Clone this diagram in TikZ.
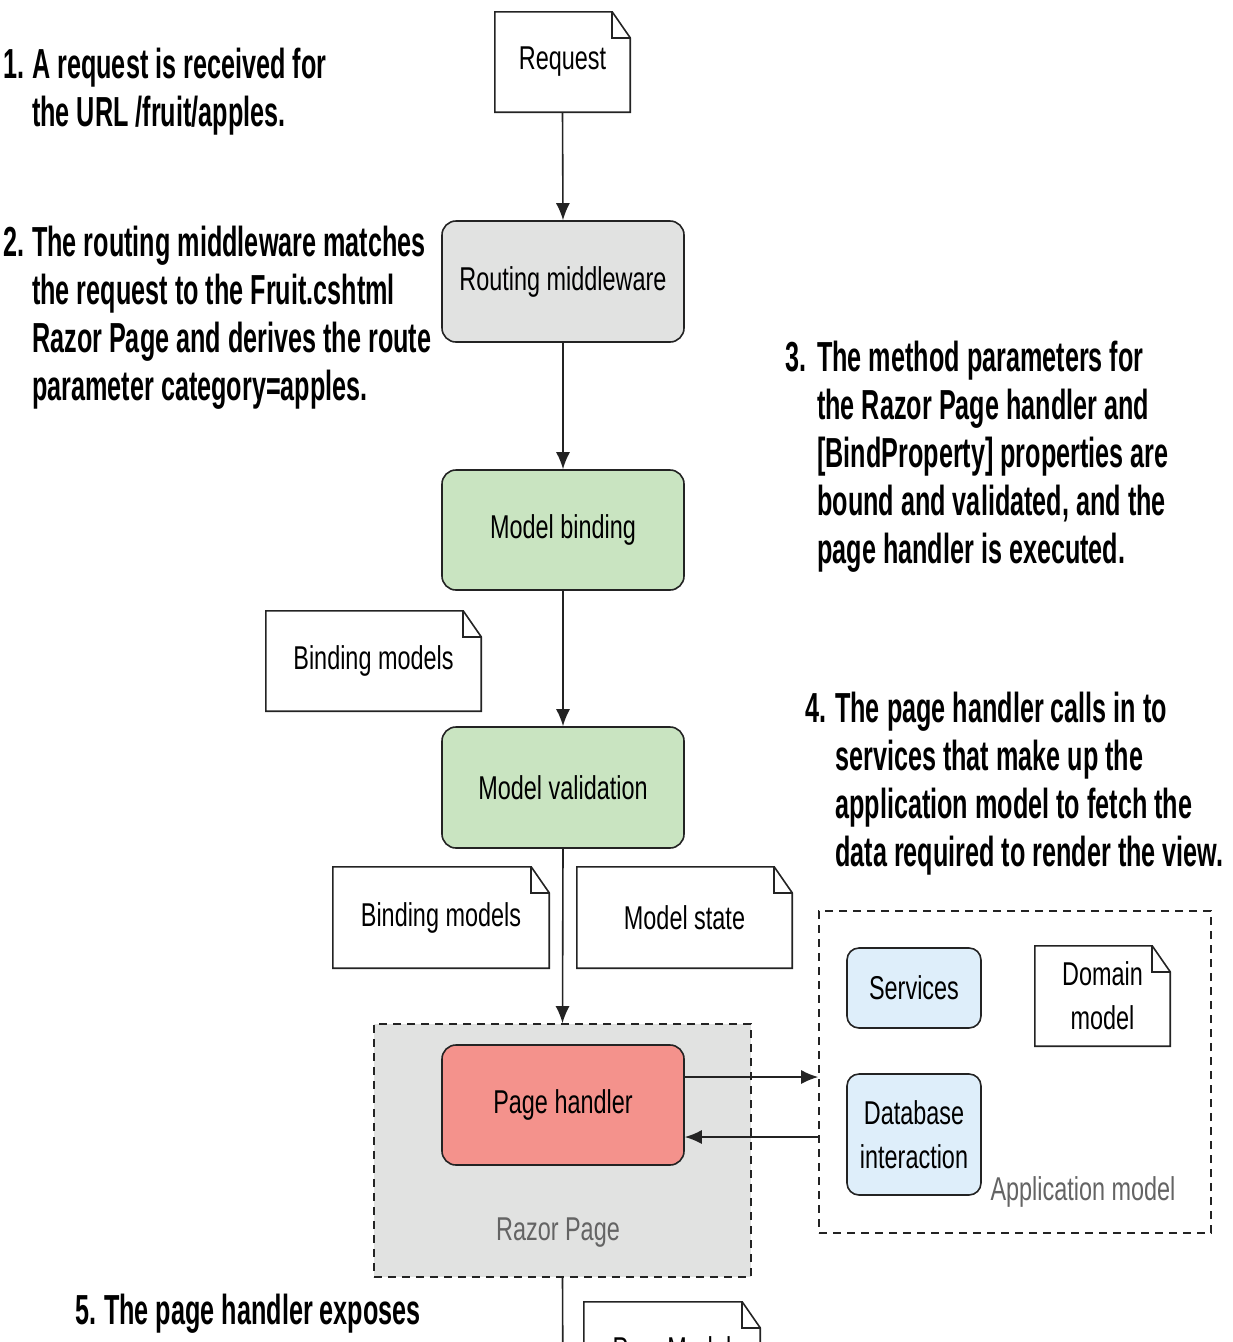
\documentclass[tikz,border=0pt]{standalone}
\usepackage{fontspec}
\usetikzlibrary{arrows.meta}
\newfontfamily\annfont[FakeStretch=0.6]{Liberation Sans}
\newfontfamily\nodefont[FakeStretch=0.71]{Liberation Sans}
\definecolor{linec}{RGB}{35,35,35}
\definecolor{routefill}{RGB}{225,226,225}
\definecolor{greenfill}{RGB}{201,228,193}
\definecolor{redfill}{RGB}{244,146,140}
\definecolor{bluefill}{RGB}{222,238,250}
\definecolor{razorfill}{RGB}{225,226,225}
\definecolor{labelgray}{RGB}{100,100,100}
\tikzset{
  box/.style={draw=linec, line width=1.6pt, rounded corners=14pt,
    minimum width=242pt, minimum height=121pt, inner sep=0pt, align=center,
    font=\nodefont\fontsize{33}{44}\selectfont},
  smallbox/.style={box, minimum width=134pt, rounded corners=12pt},
  docnode/.style={minimum width=215pt, minimum height=100pt, inner sep=0pt,
    align=center, font=\nodefont\fontsize{33}{44}\selectfont},
  docline/.style={draw=linec, line width=1.6pt, line join=miter},
  ann/.style={anchor=base west, inner sep=0pt,
    font=\annfont\bfseries\fontsize{42}{48}\selectfont},
  grouplabel/.style={inner sep=0pt, text=labelgray,
    font=\nodefont\fontsize{33}{44}\selectfont},
  arr/.style={draw=linec, line width=1.6pt, -{Latex[length=17pt,width=14pt]}},
  plainline/.style={draw=linec, line width=1.6pt},
  groupbox/.style={draw=linec, line width=1.6pt, dash pattern=on 8pt off 6pt, inner sep=0pt},
}
\newcommand{\docdraw}[1]{%
  \draw[docline] (#1.south west) -- (#1.north west) -- ([xshift=-18pt]#1.north east)
    -- ([yshift=-26pt]#1.north east) -- (#1.south east) -- cycle;
  \draw[docline] ([xshift=-18pt]#1.north east) |- ([yshift=-26pt]#1.north east);}
\begin{document}
\begin{tikzpicture}[x=1pt,y=-1pt]
\useasboundingbox (0,0) rectangle (1233,1342);
\clip (0,0) rectangle (1233,1342);

% Groups
\node[groupbox, fill=razorfill, minimum width=377pt, minimum height=253pt] (razor) at (562.5,1150.5) {};
\node[groupbox, fill=white, minimum width=392pt, minimum height=322pt] (app) at (1015,1072) {};
\node[grouplabel] (razorlbl) at (558,1233) {Razor Page};
\node[grouplabel] (applbl) at (1083,1192) {Application model};

% Main pipeline
\node[docnode, minimum width=135pt] (req) at (562.5,62) {Request};
\docdraw{req}
\node[box, fill=routefill] (route) at (563,281.5) {Routing middleware};
\node[box, fill=greenfill, minimum height=120pt] (bind) at (563,530) {Model binding};
\node[docnode] (bm1) at (373.5,661) {Binding models};
\docdraw{bm1}
\node[box, fill=greenfill] (valid) at (563,787.5) {Model validation};
\node[docnode, minimum width=216pt, minimum height=101pt] (bm2) at (441,917.5) {Binding models};
\docdraw{bm2}
\node[docnode, minimum height=101pt] (mstate) at (684.5,917.5) {Model state};
\docdraw{mstate}
\node[box, fill=redfill, minimum height=120pt] (ph) at (563,1105) {Page handler};

% Application model content
\node[smallbox, fill=bluefill, minimum height=80pt] (serv) at (914,988) {Services};
\node[docnode, minimum width=135pt] (dom) at (1102.5,996) {Domain\\model};
\docdraw{dom}
\node[smallbox, fill=bluefill] (db) at (914,1134.5) {Database\\interaction};

% Page model (cut off at the picture's lower edge, as in the original)
\node[docnode, minimum width=176pt] (pm) at (672,1352) {PageModel};
\docdraw{pm}

% Connectors
\draw[arr] (req.south) -- (route.north);
\draw[arr] (route.south) -- (bind.north);
\draw[arr] (bind.south) -- (valid.north);
\draw[arr] (valid.south) -- (razor.north);
\draw[arr] ([yshift=28pt]ph.east) -- ([yshift=28pt]ph.east -| app.west);
\draw[arr] ([yshift=-32pt]ph.east -| app.west) -- ([yshift=-32pt]ph.east);
\coordinate (down) at (563,1400);
\draw[plainline] (razor.south) -- (down);

% Annotations
\node[ann] (t1) at (3,78) {\begin{tabular}[t]{@{}p{29pt}@{}l@{}}1. & A request is received for\\ & the URL /fruit/apples.\end{tabular}};
\node[ann] (t2) at (3,256) {\begin{tabular}[t]{@{}p{29pt}@{}l@{}}2. & The routing middleware matches\\ & the request to the Fruit.cshtml\\ & Razor Page and derives the route\\ & parameter category=apples.\end{tabular}};
\node[ann] (t3) at (785,371) {\begin{tabular}[t]{@{}p{32pt}@{}l@{}}3. & The method parameters for\\ & the Razor Page handler and\\ & [BindProperty] properties are\\ & bound and validated, and the\\ & page handler is executed.\end{tabular}};
\node[ann] (t4) at (805,722) {\begin{tabular}[t]{@{}p{30pt}@{}l@{}}4. & The page handler calls in to\\ & services that make up the\\ & application model to fetch the\\ & data required to render the view.\end{tabular}};
\node[ann] (t5) at (75,1324) {\begin{tabular}[t]{@{}p{29pt}@{}l@{}}5. & The page handler exposes\end{tabular}};
\end{tikzpicture}
\end{document}
